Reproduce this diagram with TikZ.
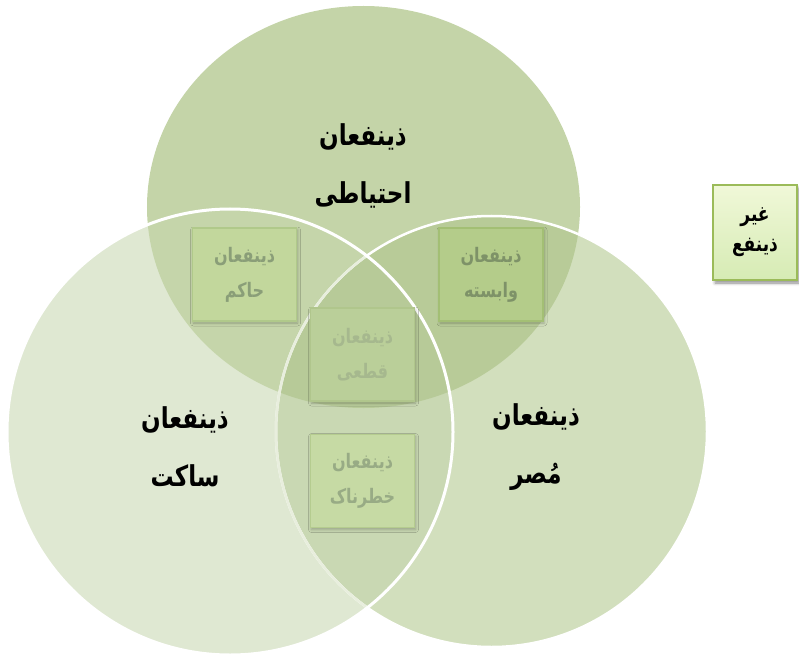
\documentclass[tikz,border=0pt]{standalone}
\usepackage{fontspec}
\usepackage{graphicx}
\newfontfamily\arabicfont[Script=Arabic]{DejaVu Sans}
\TeXXeTstate=1
\newcommand\fatxt[1]{\scalebox{1}[1.25]{\beginR #1\endR}}
\usetikzlibrary{shadows.blur}
\definecolor{topc}{HTML}{C4D4A8}
\definecolor{leftc}{HTML}{DFE8D2}
\definecolor{rightc}{HTML}{D2DFBD}
\definecolor{tlc}{HTML}{C5D5AA}
\definecolor{trc}{HTML}{B8CB98}
\definecolor{lrc}{HTML}{C9D8B3}
\definecolor{allc}{HTML}{B7CA98}
\definecolor{faintwhite}{HTML}{E8EEDD}
\definecolor{boxA}{HTML}{C2D79C}
\definecolor{boxAline}{HTML}{B0C98A}
\definecolor{txtA}{HTML}{8A9E78}
\definecolor{boxB}{HTML}{B4CC8A}
\definecolor{boxBline}{HTML}{A3BF74}
\definecolor{txtB}{HTML}{7E9268}
\definecolor{boxC}{HTML}{BACF99}
\definecolor{boxCline}{HTML}{B0C68C}
\definecolor{txtC}{HTML}{A6B88E}
\definecolor{boxD}{HTML}{C6DAA4}
\definecolor{boxDline}{HTML}{B5CC8F}
\definecolor{txtD}{HTML}{98AB85}
\definecolor{outTop}{HTML}{F0F8D8}
\definecolor{outBot}{HTML}{D6EBB4}
\definecolor{outLine}{HTML}{9BBB59}
\tikzset{
  mainlbl/.style={align=center, font=\arabicfont\bfseries\fontsize{23bp}{58bp}\selectfont, text=black},
  setbox/.style={draw, line width=1.2bp, minimum width=104bp, minimum height=93bp, align=center,
    font=\arabicfont\bfseries\fontsize{16bp}{35bp}\selectfont,
    blur shadow={shadow xshift=1bp, shadow yshift=-2bp, shadow blur radius=3bp, shadow opacity=25}},
  outbox/.style={draw=outLine, line width=1.5bp, top color=outTop, bottom color=outBot,
    minimum width=84bp, minimum height=95bp, align=center,
    font=\arabicfont\bfseries\fontsize{17bp}{30bp}\selectfont,
    blur shadow={shadow xshift=2bp, shadow yshift=-3bp, shadow blur radius=3bp, shadow opacity=45}}
}
\begin{document}
\begin{tikzpicture}[x=1bp,y=-1bp]
\useasboundingbox (0,0) rectangle (799,656);
\coordinate (T) at (363.5,207);
\coordinate (L) at (230,432);
\coordinate (R) at (491.5,431.5);
% base fills
\fill[topc] (T) ellipse [x radius=216.5bp, y radius=201bp];
\fill[leftc] (L) circle [radius=223bp];
\fill[rightc] (R) circle [radius=215.5bp];
% overlaps
\begin{scope}
  \clip (T) ellipse [x radius=216.5bp, y radius=201bp];
  \fill[tlc] (L) circle [radius=223bp];
  \fill[trc] (R) circle [radius=215.5bp];
\end{scope}
\begin{scope}
  \clip (L) circle [radius=223bp];
  \fill[lrc] (R) circle [radius=215.5bp];
  \clip (R) circle [radius=215.5bp];
  \fill[allc] (T) ellipse [x radius=216.5bp, y radius=201bp];
\end{scope}
% outlines
\draw[white, line width=2.5bp] (R) circle [radius=215.5bp];
\begin{scope}
  \clip (L) circle [radius=223bp];
  \draw[faintwhite, line width=2.5bp] (R) circle [radius=215.5bp];
\end{scope}
\draw[white, line width=3bp] (L) circle [radius=223bp];
% main labels
\node[mainlbl] (tlab) at (363,166) {\fatxt{ذینفعان}\\\fatxt{احتیاطی}};
\node[mainlbl] (llab) at (185,447) {\fatxt{ذینفعان}\\\fatxt{ساکت}};
\node[mainlbl] (rlab) at (536,447) {\fatxt{ذینفعان}\\\fatxt{مُصر}};
% boxes
\node[setbox, draw=boxAline, fill=boxA, text=txtA] (hakem) at (244.5,274.5) {\fatxt{ذینفعان}\\\fatxt{حاکم}};
\node[setbox, draw=boxBline, fill=boxB, text=txtB] (vabaste) at (491,274.5) {\fatxt{ذینفعان}\\\fatxt{وابسته}};
\node[setbox, draw=boxCline, fill=boxC, text=txtC] (ghatei) at (362.5,354.5) {\fatxt{ذینفعان}\\\fatxt{قطعی}};
\node[setbox, draw=boxDline, fill=boxD, text=txtD] (khatar) at (362.5,481) {\fatxt{ذینفعان}\\\fatxt{خطرناک}};
\node[outbox] (gheir) at (755,232.5) {\fatxt{غیر}\\\fatxt{ذینفع}};
\end{tikzpicture}
\end{document}
